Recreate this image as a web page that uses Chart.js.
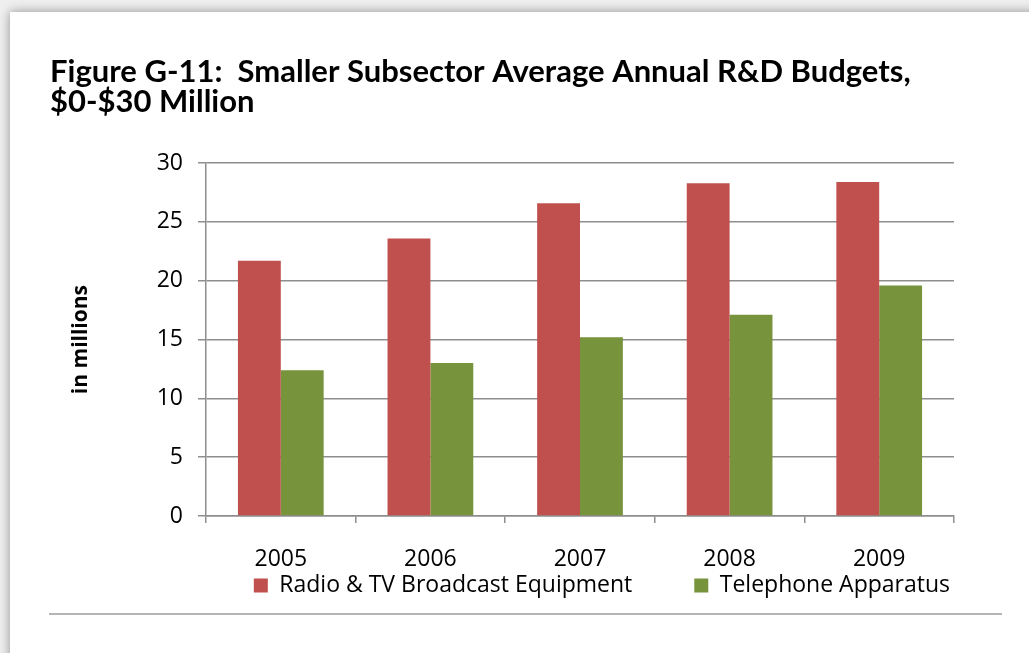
<!DOCTYPE html>
<html>
<head>
<meta charset="utf-8">
<title>R&amp;D Budgets</title>
<script src="https://cdn.jsdelivr.net/npm/chart.js@4.4.1/dist/chart.umd.min.js"></script>
<style>
  html, body { margin: 0; padding: 0; width: 1029px; height: 653px; overflow: hidden; background: #efefef; }
  .sheet { position: absolute; left: 10px; top: 12px; width: 1060px; height: 680px; background: #fff;
           box-shadow: 0 0 10px rgba(0, 0, 0, 0.4); }
  .rule { position: absolute; left: 49px; top: 613px; width: 953px; border-top: 2px solid #b5b5b5; }
  #chart { position: absolute; left: 0; top: 0; }
</style>
</head>
<body>
<div class="sheet"></div>
<div class="rule"></div>
<canvas id="chart" width="1029" height="653"></canvas>
<script>
// average annual R&D budget per year, $ millions
var years = ['2005', '2006', '2007', '2008', '2009'];
var radioTv = [21.7, 23.6, 26.6, 28.3, 28.4];
var telephone = [12.4, 13.0, 15.2, 17.1, 19.6];

var seriesNames = ['Radio & TV Broadcast Equipment', 'Telephone Apparatus'];
var titleLines = ['Figure G-11:  Smaller Subsector Average Annual R&D Budgets,', '$0-$30 Million'];

var axisGrey = '#8e8e8e';
var tickFont = { family: 'Open Sans', size: 23 };
var legendGap = 62;      // space between the two legend entries
var legendDrop = 58;     // axis line to top of the legend row
var yearBand = 60;       // room kept for the year labels under the axis

// year labels and legend share the strip under the plot; the x axis box is
// kept zero-height for the layout and widened again here so its labels show
var legendPlacement = {
    id: 'legendPlacement',
    afterLayout: function(chart) {
        var x = chart.scales.x;
        x.bottom = x.top + yearBand;
        var lg = chart.legend;
        var h = lg.height;
        lg.right = chart.chartArea.right + legendGap - 4;
        lg.top = chart.chartArea.bottom + legendDrop - legendGap;
        lg.bottom = lg.top + h;
    }
};

new Chart(document.getElementById('chart'), {
    type: 'bar',
    data: {
        labels: years,
        datasets: [{
            label: seriesNames[0],
            data: radioTv,
            backgroundColor: '#C0504D'
        }, {
            label: seriesNames[1],
            data: telephone,
            backgroundColor: '#77933C'
        }]
    },
    options: {
        responsive: false,
        animation: false,
        layout: { padding: { left: 50, right: 75, top: 0, bottom: 42 } },
        datasets: { bar: { categoryPercentage: 0.573, barPercentage: 1.0 } },
        plugins: {
            title: {
                display: true,
                align: 'start',
                text: titleLines,
                color: '#000',
                font: { family: 'Lato', size: 31, weight: 'bold', lineHeight: 0.97 },
                padding: { top: 57, bottom: 46 }
            },
            legend: {
                position: 'bottom',
                align: 'end',
                labels: {
                    color: '#000',
                    font: tickFont,
                    boxWidth: 14,
                    boxHeight: 14,
                    padding: legendGap
                }
            },
            tooltip: { enabled: false }
        },
        scales: {
            x: {
                grid: { drawOnChartArea: false, drawTicks: true, tickLength: 7, color: axisGrey, lineWidth: 1.5 },
                border: { color: axisGrey, width: 1.5 },
                ticks: { color: '#000', font: tickFont, padding: 23 },
                afterFit: function(scale) { scale.height = 0; }
            },
            y: {
                min: 0,
                max: 30,
                ticks: { stepSize: 5, color: '#000', font: tickFont, padding: 15 },
                grid: { color: axisGrey, lineWidth: 1.5, tickLength: 8 },
                border: { color: axisGrey, width: 1.5 },
                title: {
                    display: true,
                    text: 'in millions',
                    color: '#000',
                    font: { family: 'Open Sans', size: 21, weight: 'bold' },
                    padding: { top: 18, bottom: 0 }
                },
                afterFit: function(scale) { scale.width = 156; }
            }
        }
    },
    plugins: [legendPlacement]
});
</script>
</body>
</html>
